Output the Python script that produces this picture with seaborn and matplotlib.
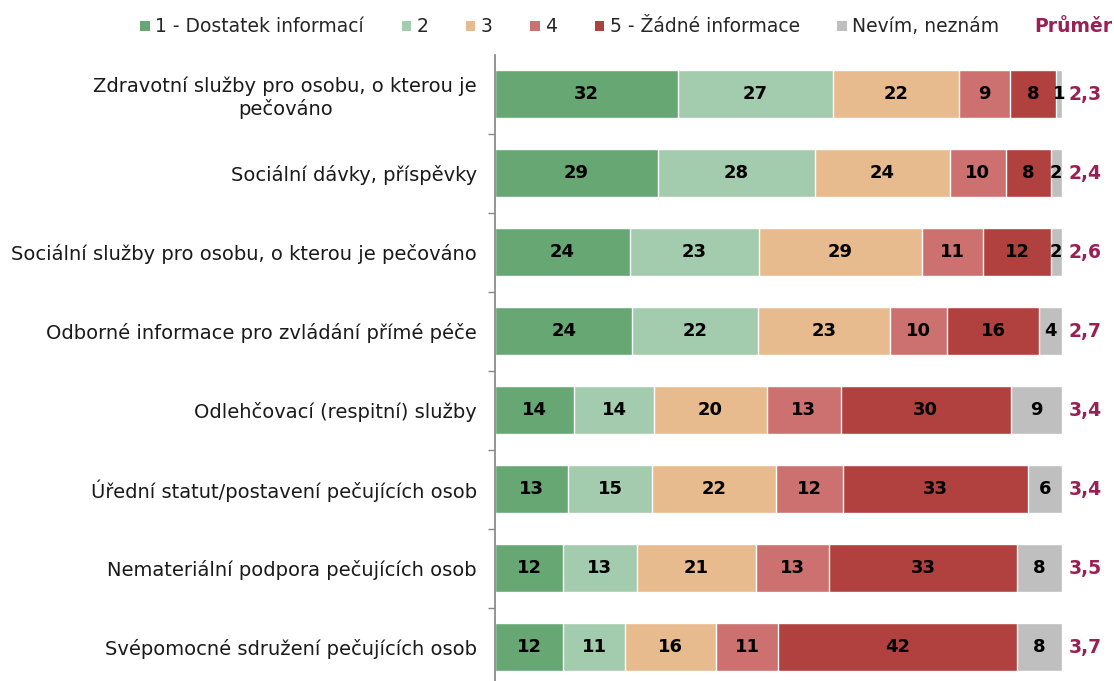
import numpy as np
import pandas as pd
import matplotlib.pyplot as plt
import seaborn as sns
from matplotlib.patches import Patch

# data
categories = [
    "Zdravotní služby pro osobu, o kterou je\npečováno",
    "Sociální dávky, příspěvky",
    "Sociální služby pro osobu, o kterou je pečováno",
    "Odborné informace pro zvládání přímé péče",
    "Odlehčovací (respitní) služby",
    "Úřední statut/postavení pečujících osob",
    "Nemateriální podpora pečujících osob",
    "Svépomocné sdružení pečujících osob",
]
series = ["1 - Dostatek informací", "2", "3", "4", "5 - Žádné informace", "Nevím, neznám"]
v1 = [32, 29, 24, 24, 14, 13, 12, 12]
v2 = [27, 28, 23, 22, 14, 15, 13, 11]
v3 = [22, 24, 29, 23, 20, 22, 21, 16]
v4 = [9, 10, 11, 10, 13, 12, 13, 11]
v5 = [8, 8, 12, 16, 30, 33, 33, 42]
v6 = [1, 2, 2, 4, 9, 6, 8, 8]
averages = ["2,3", "2,4", "2,6", "2,7", "3,4", "3,4", "3,5", "3,7"]

colors = ["#67a774", "#a3cbae", "#e8bb8f", "#cc716f", "#b0413e", "#bfbfbf"]
avg_color = "#9b1f55"

sns.set_theme(style="white")
plt.rcParams["font.family"] = ["DejaVu Sans"]

df = pd.DataFrame({"cat": categories})
vals = np.array([v1, v2, v3, v4, v5, v6])
# 100% stacked (rounded values don't always sum to 100)
share = vals / vals.sum(axis=0) * 100
cum = share.cumsum(axis=0)

fig = plt.figure(figsize=(11.14, 6.81), dpi=100)
ax = fig.add_axes([495 / 1114, 0, 1 - 495 / 1114, 1 - 54.5 / 681])

# stacked bars drawn as overlaid cumulative totals
for k in range(5, -1, -1):
    sns.barplot(x=cum[k], y=df["cat"], orient="h", color=colors[k],
                width=0.61, edgecolor="white", linewidth=1, ax=ax, saturation=1)

# value labels
for k in range(6):
    for i in range(len(categories)):
        start = cum[k][i] - share[k][i]
        ax.text(start + share[k][i] / 2, i, str(vals[k][i]), ha="center", va="center",
                fontsize=13, fontweight="bold", color="black")

for i, a in enumerate(averages):
    ax.text(101.2, i, a, ha="left", va="center", fontsize=13.5,
            fontweight="bold", color=avg_color)

ax.set_xlim(0, 109.2)
ax.set_ylim(7.43, -0.5)
ax.set_xlabel("")
ax.set_ylabel("")
ax.set_xticks([])
ax.set_yticks(range(len(categories)))
ax.set_yticklabels(categories, fontsize=14, multialignment="center", color="#1a1a1a")
ax.set_yticks(np.arange(0.5, 7.5, 1), minor=True)
ax.tick_params(axis="y", which="major", length=0, pad=13)
ax.tick_params(axis="y", which="minor", length=5, color="#888888", direction="out", left=True)
for s in ["top", "right", "bottom"]:
    ax.spines[s].set_visible(False)
ax.spines["left"].set_color("#888888")

handles = [Patch(facecolor=c, edgecolor="none") for c in colors]
fig.legend(handles, series, loc="center", bbox_to_anchor=(570 / 1114, 1 - 27 / 681),
           ncol=6, frameon=False, fontsize=13.5, handlelength=0.5, handleheight=0.5,
           handletextpad=0.3, columnspacing=2.0)
fig.text(1112 / 1114, 1 - 27 / 681, "Průměr", ha="right", va="center", fontsize=13.5,
         fontweight="bold", color=avg_color)

fig.savefig("out.png", dpi=100)
